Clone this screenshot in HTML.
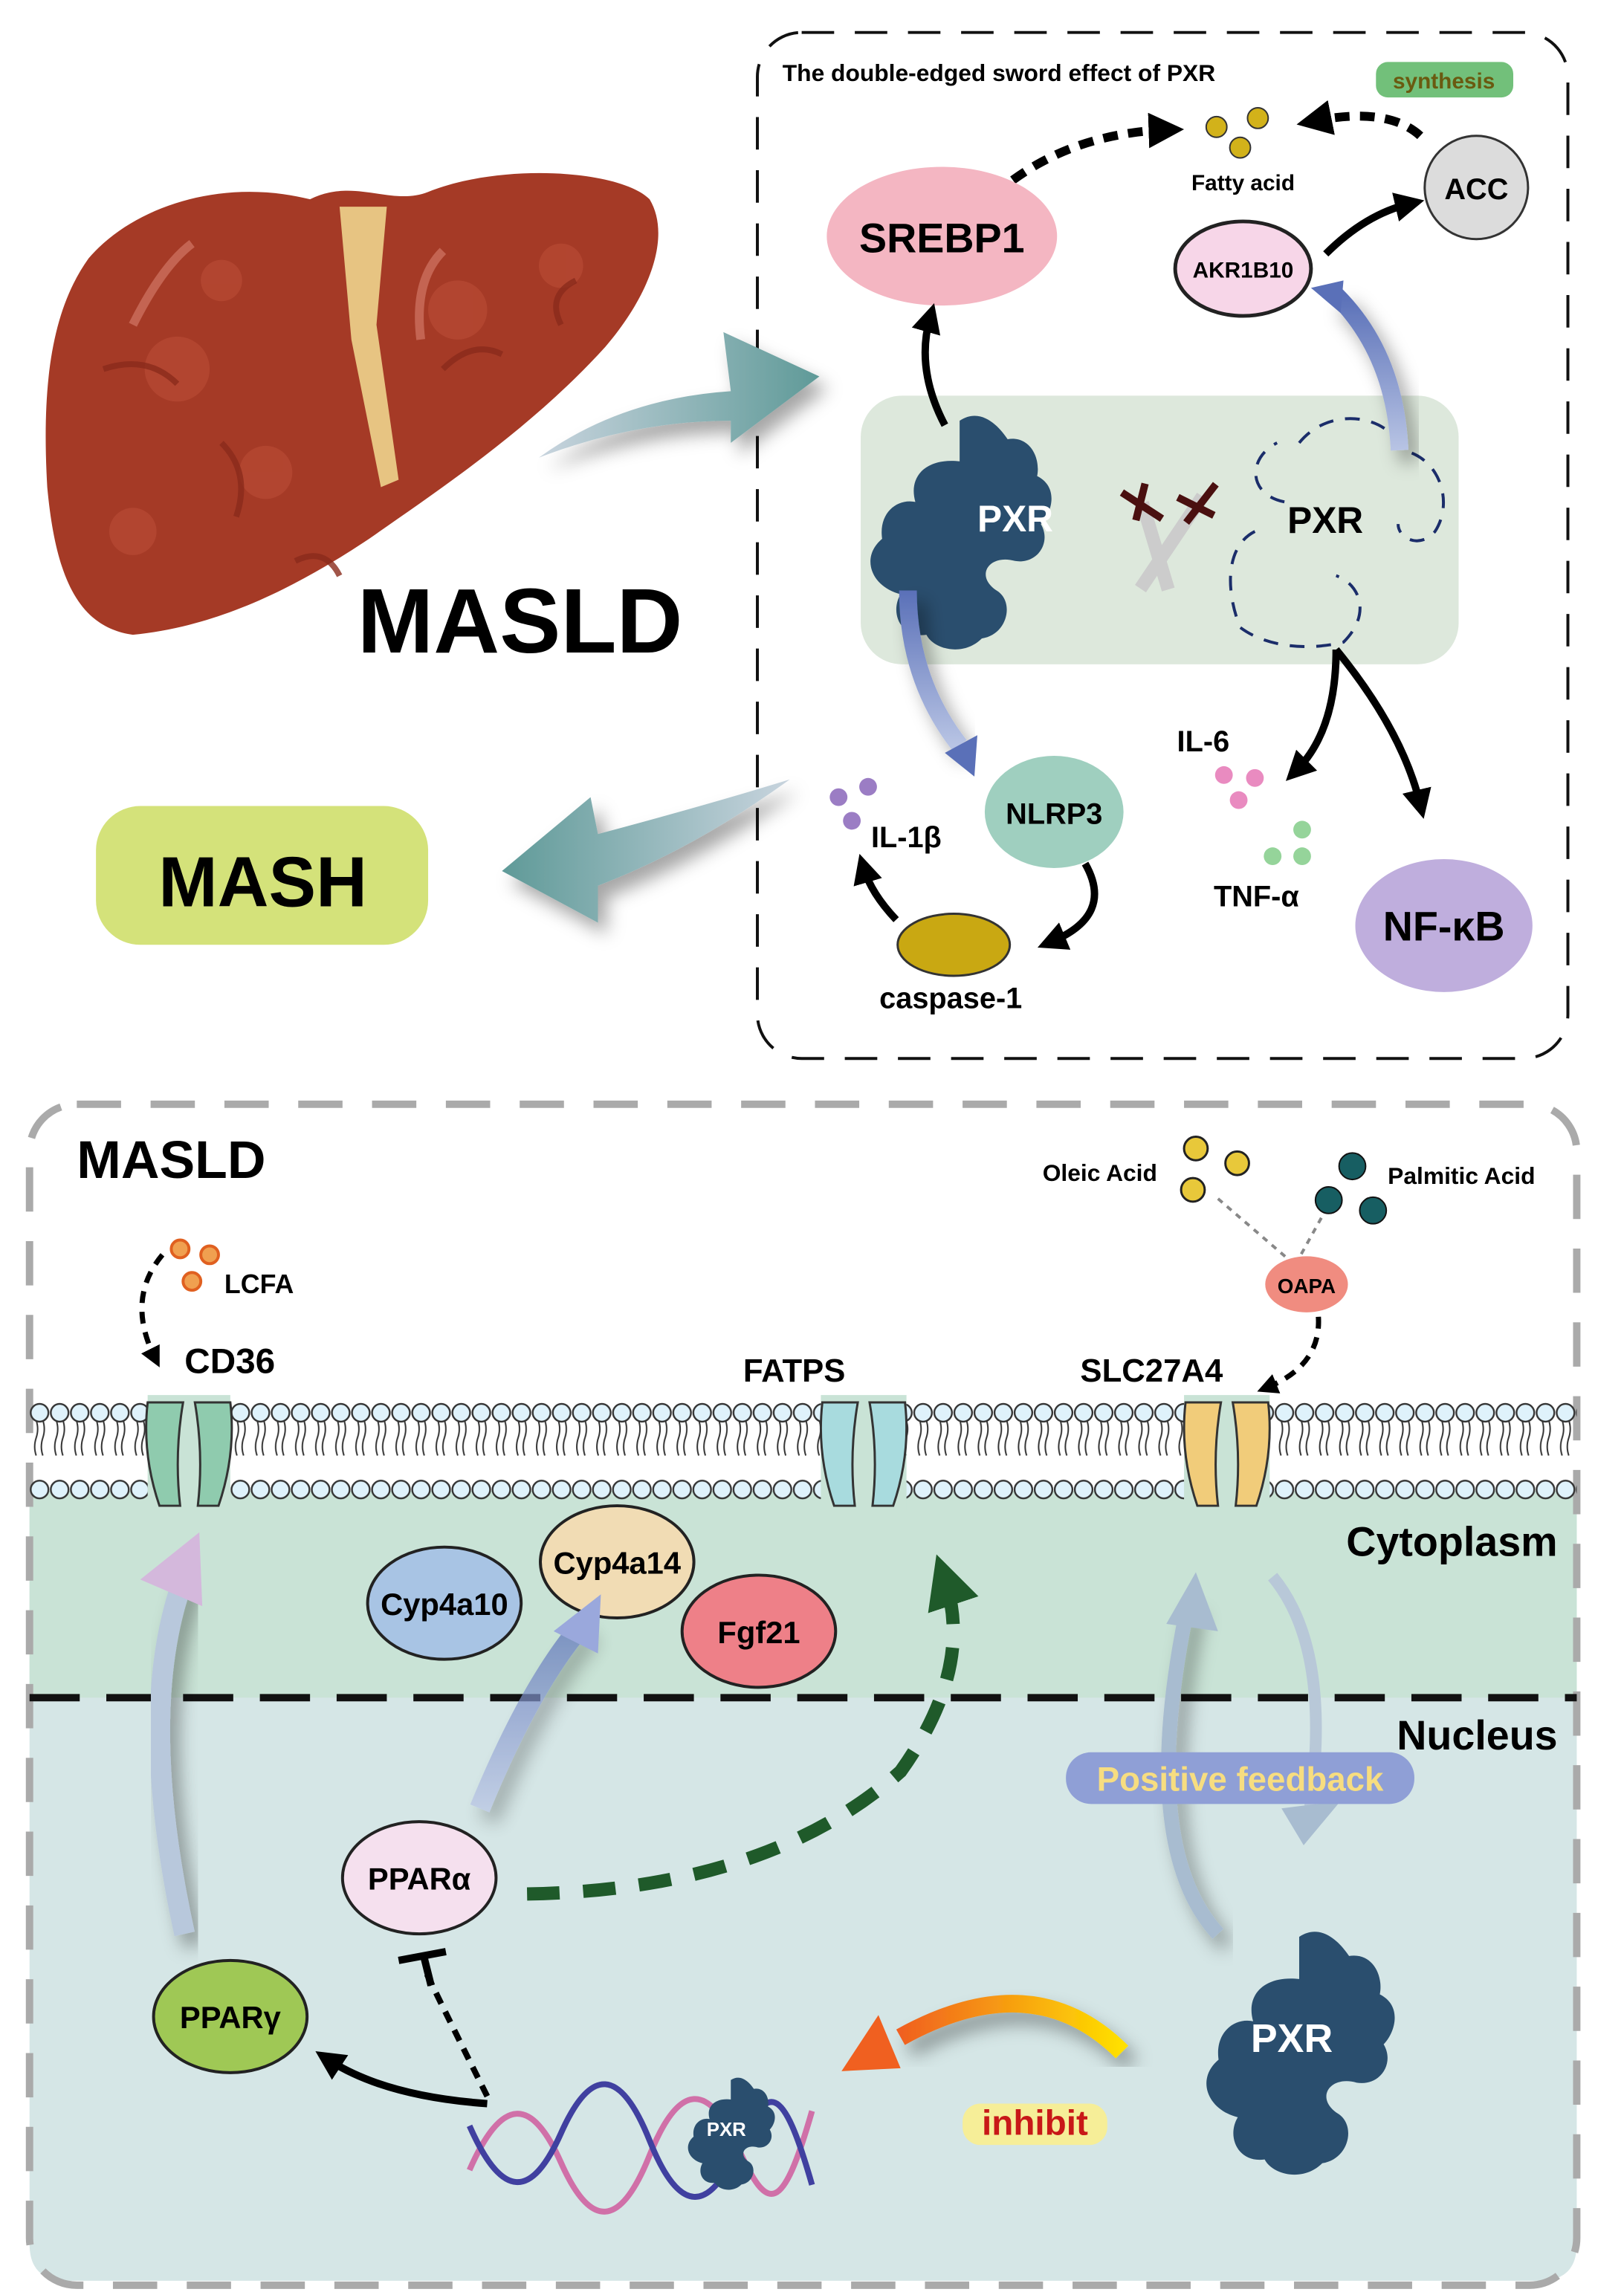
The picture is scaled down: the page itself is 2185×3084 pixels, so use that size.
<!DOCTYPE html>
<html><head><meta charset="utf-8"><style>
html,body{margin:0;padding:0;background:#fff}
svg{display:block}
text{font-family:"Liberation Sans",sans-serif;font-weight:bold}
</style></head><body>
<svg width="2185" height="3084" viewBox="0 0 1100 1552.6" xmlns="http://www.w3.org/2000/svg">
<defs>
<pattern id="mem" x="20" y="948" width="13.6" height="70" patternUnits="userSpaceOnUse">
<path d="M4.5 14 q2 6 0 12 q-2 6 0 12 M9 14 q2 6 0 12 q-2 6 0 12" stroke="#333" stroke-width="1" fill="none"/>
<circle cx="6.8" cy="9" r="6" fill="#dff2fb" stroke="#333" stroke-width="1.2"/>
<circle cx="6.8" cy="61" r="6" fill="#dff2fb" stroke="#333" stroke-width="1.2"/>
</pattern>
<linearGradient id="teal" x1="0" y1="0" x2="1" y2="0"><stop offset="0" stop-color="#c8d4de"/><stop offset="1" stop-color="#5f9a98"/></linearGradient>
<linearGradient id="teal2" x1="1" y1="0" x2="0" y2="0"><stop offset="0" stop-color="#c8d4de"/><stop offset="1" stop-color="#5f9a98"/></linearGradient>
<linearGradient id="blu" x1="0" y1="1" x2="0" y2="0"><stop offset="0" stop-color="#b8c4e4"/><stop offset="1" stop-color="#5a70b8"/></linearGradient>
<linearGradient id="org" x1="1" y1="0" x2="0" y2="0"><stop offset="0" stop-color="#ffe000"/><stop offset="1" stop-color="#f06020"/></linearGradient>
<filter id="sh" x="-30%" y="-30%" width="160%" height="160%"><feDropShadow dx="6" dy="8" stdDeviation="6" flood-color="#000" flood-opacity="0.35"/></filter>
<marker id="ah" markerWidth="4" markerHeight="4" refX="2" refY="2" orient="auto"><path d="M0 0L4 2L0 4z" fill="#000"/></marker>
<marker id="ahg" markerWidth="4" markerHeight="4" refX="2" refY="2" orient="auto"><path d="M0 0L4 2L0 4z" fill="#1f5a2a"/></marker>
<path id="blob" d="M0 -60 c12 -8 22 4 26 10 c12 -2 18 10 16 20 c12 6 8 20 2 26 c6 10 -2 22 -14 20 c-14 -4 -22 8 -10 16 c10 6 6 24 -8 26 c-10 10 -26 6 -30 -2 c-14 2 -20 -12 -14 -22 c-16 -4 -22 -20 -10 -30 c-2 -14 8 -22 18 -20 c-4 -14 6 -24 24 -22 z"/>
</defs>

<rect x="513" y="22" width="549" height="695" rx="30" fill="none" stroke="#111" stroke-width="2" stroke-dasharray="22 14"/>
<text x="530" y="55" font-size="16">The double-edged sword effect of PXR</text>
<rect x="932" y="42" width="93" height="24" rx="8" fill="#72c07a"/>
<text x="978" y="60" font-size="15" text-anchor="middle" fill="#6a5a10">synthesis</text>
<circle cx="824" cy="86" r="7" fill="#d2b21a" stroke="#333"/><circle cx="852" cy="80" r="7" fill="#d2b21a" stroke="#333"/><circle cx="840" cy="100" r="7" fill="#d2b21a" stroke="#333"/>
<text x="842" y="129" font-size="15" text-anchor="middle">Fatty acid</text>
<path d="M686 122 Q730 90 790 88" stroke="#000" stroke-width="6" fill="none" stroke-dasharray="10 7" marker-end="url(#ah)"/>
<path d="M962 92 Q940 72 890 82" stroke="#000" stroke-width="6" fill="none" stroke-dasharray="10 7" marker-end="url(#ah)"/>
<ellipse cx="638" cy="160" rx="78" ry="47" fill="#f4b6c2"/>
<text x="638" y="171" font-size="28" text-anchor="middle">SREBP1</text>
<circle cx="1000" cy="127" r="35" fill="#dcdcdc" stroke="#333" stroke-width="1.5"/>
<text x="1000" y="135" font-size="20" text-anchor="middle">ACC</text>
<ellipse cx="842" cy="182" rx="46" ry="32" fill="#f7d6e8" stroke="#222" stroke-width="2.5"/>
<text x="842" y="188" font-size="15" text-anchor="middle">AKR1B10</text>
<path d="M898 172 Q925 145 955 138" stroke="#000" stroke-width="5" fill="none" marker-end="url(#ah)"/>
<rect x="583" y="268" width="405" height="182" rx="28" fill="#dde8dc"/>
<use href="#blob" transform="translate(650,360) scale(1.25)" fill="#2a4e6e"/>
<text x="662" y="360" font-size="25" fill="#fff">PXR</text>
<path d="M880 300 c20 -25 60 -20 70 5 c25 5 35 35 22 55 c-10 12 -25 5 -25 -5 M850 360 c-20 10 -20 40 -10 65 c20 15 50 15 70 10 c20 -20 10 -40 -5 -45 M870 340 c-25 -5 -25 -30 -5 -40" stroke="#1b2d6a" stroke-width="2" fill="none" stroke-dasharray="10 8"/>
<text x="872" y="361" font-size="25">PXR</text>
<g stroke-linecap="square"><path d="M775 395 L812 340 M790 395 L775 345" stroke="#ccc" stroke-width="9"/>
<path d="M762 335 L785 350 M775 330 L770 350 M822 330 L805 352 M800 338 L820 348" stroke="#4a1010" stroke-width="5"/></g>
<path d="M640 288 Q620 250 630 215" stroke="#000" stroke-width="5" fill="none" marker-end="url(#ah)"/>
<path d="M948 305 Q945 240 905 200" stroke="url(#blu)" stroke-width="12" fill="none" filter="url(#sh)"/>
<path d="M888 195 l22 -5 l-2 22 z" fill="#5a70b8"/>
<path d="M615 400 Q615 460 650 505" stroke="url(#blu)" stroke-width="12" fill="none" filter="url(#sh)"/>
<path d="M640 510 l22 -12 l-2 28 z" fill="#5a70b8"/>
<ellipse cx="714" cy="550" rx="47" ry="38" fill="#9fcfbf"/>
<text x="714" y="558" font-size="20" text-anchor="middle">NLRP3</text>
<circle cx="568" cy="540" r="6" fill="#9b7dc4"/><circle cx="588" cy="533" r="6" fill="#9b7dc4"/><circle cx="577" cy="556" r="6" fill="#9b7dc4"/>
<text x="590" y="574" font-size="20">IL-1β</text>
<ellipse cx="646" cy="640" rx="38" ry="21" fill="#c9a812" stroke="#333" stroke-width="1.5"/>
<text x="644" y="683" font-size="20" text-anchor="middle">caspase-1</text>
<path d="M735 585 Q755 620 712 638" stroke="#000" stroke-width="5" fill="none" marker-end="url(#ah)"/>
<path d="M607 623 Q590 605 585 588" stroke="#000" stroke-width="5" fill="none" marker-end="url(#ah)"/>
<text x="815" y="509" font-size="20" text-anchor="middle">IL-6</text>
<circle cx="829" cy="525" r="6" fill="#e98bc0"/><circle cx="850" cy="527" r="6" fill="#e98bc0"/><circle cx="839" cy="542" r="6" fill="#e98bc0"/>
<circle cx="882" cy="562" r="6" fill="#95d49a"/><circle cx="862" cy="580" r="6" fill="#95d49a"/><circle cx="882" cy="580" r="6" fill="#95d49a"/>
<text x="851" y="614" font-size="20" text-anchor="middle">TNF-α</text>
<path d="M905 440 Q905 495 878 522" stroke="#000" stroke-width="5" fill="none" marker-end="url(#ah)"/>
<path d="M905 440 Q950 495 962 545" stroke="#000" stroke-width="5" fill="none" marker-end="url(#ah)"/>
<ellipse cx="978" cy="627" rx="60" ry="45" fill="#bfaedd"/>
<text x="978" y="637" font-size="28" text-anchor="middle">NF-κB</text>

<!-- liver -->
<path d="M60 175 C90 140 150 120 210 135 C240 120 265 140 290 130 C340 110 420 115 440 135 C455 160 440 200 410 235 C360 290 300 330 250 365 C190 405 140 425 90 430 C55 425 38 395 32 330 C28 260 35 210 60 175 Z" fill="#a53a26"/>
<g fill="#b84a34" opacity="0.7"><circle cx="120" cy="250" r="22"/><circle cx="180" cy="320" r="18"/><circle cx="310" cy="210" r="20"/><circle cx="90" cy="360" r="16"/><circle cx="380" cy="180" r="15"/><circle cx="150" cy="190" r="14"/></g>
<g stroke="#8a2a1c" stroke-width="4" fill="none" opacity="0.8"><path d="M70 250 q30 -10 50 10 M150 300 q20 20 10 50 M300 250 q20 -20 40 -10 M200 380 q20 -10 30 10 M380 220 q-10 -20 10 -30"/></g>
<path d="M230 140 L262 140 L255 220 L270 325 L258 330 L238 230 Z" fill="#e7c482"/>
<path d="M90 220 Q110 180 130 165 M300 170 Q280 190 285 230" stroke="#d88070" stroke-width="6" fill="none" opacity="0.6"/>
<text x="242" y="442" font-size="62">MASLD</text>
<path d="M365 310 Q420 270 495 265 L490 225 L555 255 L495 300 L495 285 Q430 285 365 310Z" fill="url(#teal)" filter="url(#sh)"/>
<rect x="65" y="546" width="225" height="94" rx="30" fill="#d4e27a"/>
<text x="178" y="614" font-size="48" text-anchor="middle">MASH</text>
<path d="M535 528 Q480 545 405 565 L400 540 L340 590 L405 625 L405 600 Q470 575 535 528Z" fill="url(#teal2)" filter="url(#sh)"/>

<path d="M20 1010 H1068 V1520 Q1068 1545 1043 1545 H45 Q20 1545 20 1520Z" fill="#d5e6e6"/>
<rect x="20" y="1010" width="1048" height="140" fill="#c9e3d6"/>
<rect x="20" y="748" width="1048" height="800" rx="32" fill="none" stroke="#aaa" stroke-width="5" stroke-dasharray="30 20"/>
<line x1="20" y1="1150" x2="1068" y2="1150" stroke="#111" stroke-width="5" stroke-dasharray="34 18"/>
<text x="52" y="798" font-size="36">MASLD</text>
<rect x="20" y="948" width="1048" height="70" fill="url(#mem)"/>
<g stroke="#333" stroke-width="1.5">
<rect x="100" y="945" width="56" height="78" fill="#c9e3d6" stroke="none"/>
<path d="M100 950 q-4 35 8 70 h14 q-4 -35 2 -70z M156 950 q4 35 -8 70 h-14 q4 -35 -2 -70z" fill="#8fcbae"/>
<rect x="556" y="945" width="58" height="78" fill="#c9e3d6" stroke="none"/>
<path d="M557 950 q-4 35 8 70 h14 q-4 -35 2 -70z M613 950 q4 35 -8 70 h-14 q4 -35 -2 -70z" fill="#a8dbde"/>
<rect x="802" y="945" width="58" height="78" fill="#c9e3d6" stroke="none"/>
<path d="M803 950 q-4 35 8 70 h14 q-4 -35 2 -70z M859 950 q4 35 -8 70 h-14 q4 -35 -2 -70z" fill="#f1cc7a"/>
</g>
<text x="125" y="930" font-size="24">CD36</text>
<text x="538" y="936" font-size="22" text-anchor="middle">FATPS</text>
<text x="780" y="936" font-size="22" text-anchor="middle">SLC27A4</text>
<g fill="#f0a050" stroke="#e06020" stroke-width="2"><circle cx="122" cy="846" r="6"/><circle cx="142" cy="850" r="6"/><circle cx="130" cy="868" r="6"/></g>
<text x="152" y="876" font-size="18">LCFA</text>
<path d="M110 850 Q85 880 105 920" stroke="#000" stroke-width="3.5" fill="none" stroke-dasharray="8 6" marker-end="url(#ah)"/>
<text x="745" y="800" font-size="16" text-anchor="middle">Oleic Acid</text>
<g fill="#e8c83a" stroke="#222" stroke-width="1.5"><circle cx="810" cy="778" r="8"/><circle cx="838" cy="788" r="8"/><circle cx="808" cy="806" r="8"/></g>
<g fill="#175e62" stroke="#111" stroke-width="1"><circle cx="916" cy="790" r="9"/><circle cx="900" cy="813" r="9"/><circle cx="930" cy="820" r="9"/></g>
<text x="940" y="802" font-size="16">Palmitic Acid</text>
<path d="M825 812 L875 855 M895 825 L880 852" stroke="#888" stroke-width="2" stroke-dasharray="4 4"/>
<ellipse cx="885" cy="870" rx="28" ry="19" fill="#f08c80"/>
<text x="885" y="876" font-size="14" text-anchor="middle">OAPA</text>
<path d="M893 892 Q895 925 858 940" stroke="#000" stroke-width="3.5" fill="none" stroke-dasharray="8 6" marker-end="url(#ah)"/>
<text x="1055" y="1054" font-size="28" text-anchor="end">Cytoplasm</text>
<text x="1055" y="1185" font-size="28" text-anchor="end">Nucleus</text>
<ellipse cx="301" cy="1086" rx="52" ry="38" fill="#a8c4e4" stroke="#222" stroke-width="2"/>
<text x="301" y="1094" font-size="21" text-anchor="middle">Cyp4a10</text>
<ellipse cx="418" cy="1058" rx="52" ry="38" fill="#f1dcb4" stroke="#222" stroke-width="2"/>
<text x="418" y="1066" font-size="21" text-anchor="middle">Cyp4a14</text>
<ellipse cx="514" cy="1105" rx="52" ry="38" fill="#ee8088" stroke="#222" stroke-width="2"/>
<text x="514" y="1113" font-size="21" text-anchor="middle">Fgf21</text>
<path d="M125 1310 Q90 1150 128 1060" stroke="#b8c8dc" stroke-width="14" fill="none" filter="url(#sh)"/>
<path d="M95 1070 l40 -32 l2 50z" fill="#d4b8dc"/>
<path d="M325 1225 Q360 1140 395 1100" stroke="url(#blu)" stroke-width="14" fill="none" filter="url(#sh)" opacity="0.7"/>
<path d="M375 1105 l32 -25 l-2 40z" fill="#9aa8dc"/>
<path d="M357 1283 Q520 1280 610 1200 Q660 1130 640 1070" stroke="#1f5a2a" stroke-width="9" fill="none" stroke-dasharray="22 16" marker-end="url(#ahg)"/>
<ellipse cx="284" cy="1272" rx="52" ry="38" fill="#f5e0ee" stroke="#222" stroke-width="2"/>
<text x="284" y="1280" font-size="21" text-anchor="middle">PPARα</text>
<ellipse cx="156" cy="1366" rx="52" ry="38" fill="#9fc855" stroke="#222" stroke-width="2"/>
<text x="156" y="1374" font-size="21" text-anchor="middle">PPARγ</text>
<path d="M825 1310 Q770 1250 805 1085" stroke="#a8bcd0" stroke-width="10" fill="none" filter="url(#sh)"/>
<path d="M790 1100 l20 -35 l15 40z" fill="#a8bcd0"/>
<path d="M862 1068 Q905 1120 885 1240" stroke="#b8c8d8" stroke-width="8" fill="none"/>
<path d="M868 1225 l40 -5 l-25 30z" fill="#a8bcd0"/>
<rect x="722" y="1187" width="236" height="35" rx="17" fill="#8f9fd6"/>
<text x="840" y="1213" font-size="23" text-anchor="middle" fill="#f7dd80">Positive feedback</text>
<use href="#blob" transform="translate(880,1390) scale(1.3)" fill="#2a4e6e"/>
<text x="875" y="1390" font-size="27" text-anchor="middle" fill="#fff">PXR</text>
<path d="M760 1390 Q700 1330 610 1380" stroke="url(#org)" stroke-width="12" fill="none" filter="url(#sh)"/>
<path d="M595 1365 l-25 38 l40 -2z" fill="#f06020"/>
<rect x="652" y="1425" width="98" height="28" rx="12" fill="#f6ee98"/>
<text x="701" y="1446" font-size="24" text-anchor="middle" fill="#c81818">inhibit</text>
<path d="M330 1425 Q260 1420 222 1395" stroke="#000" stroke-width="5" fill="none" marker-end="url(#ah)"/>
<path d="M330 1420 Q305 1370 288 1335" stroke="#000" stroke-width="4" fill="none" stroke-dasharray="8 6"/>
<path d="M270 1328 L302 1322 M287 1325 L292 1345" stroke="#000" stroke-width="5"/>
<g fill="none" stroke-width="4">
<path d="M318 1470 C340 1420 360 1420 380 1465 S420 1510 440 1460 S480 1410 500 1455 S530 1500 550 1430" stroke="#d070a8"/>
<path d="M318 1440 C340 1490 360 1490 380 1445 S420 1400 440 1450 S480 1500 500 1455 S530 1410 550 1480" stroke="#4040a0"/>
</g>
<use href="#blob" transform="translate(495,1445) scale(0.6)" fill="#2a4e6e"/>
<text x="492" y="1447" font-size="13" text-anchor="middle" fill="#fff">PXR</text>
</svg>
</body></html>
